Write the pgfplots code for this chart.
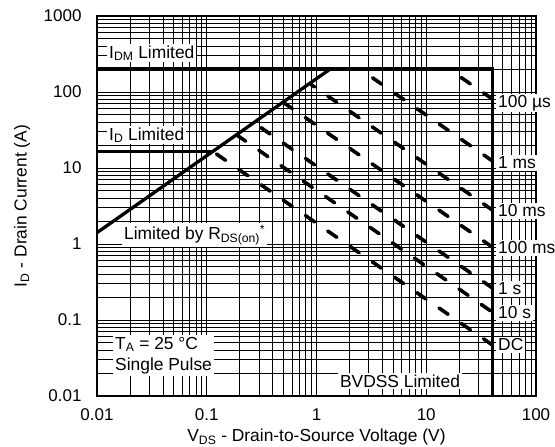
\documentclass[border=0pt]{standalone}
\usepackage{fontspec}
\setmainfont{Liberation Sans}
\usepackage{pgfplots}
\pgfplotsset{compat=1.18}
\newcommand{\lbl}{\fontsize{17.4}{21}\selectfont}
\begin{document}
\begin{tikzpicture}[x=1pt,y=1pt]
\begin{axis}[
  at={(97pt,51pt)}, anchor=south west,
  scale only axis, width=439pt, height=380pt,
  xmode=log, ymode=log,
  xmin=0.01, xmax=100, ymin=0.01, ymax=1000,
  xtick={0.01,0.1,1,10,100}, xticklabels={0.01,0.1,1,10,100},
  ytick={0.01,0.1,1,10,100,1000}, yticklabels={0.01,0.1,1,10,100,1000},
  grid=both,
  major grid style={black, line width=0.95pt},
  minor grid style={black, line width=0.95pt},
  major tick length=0pt, minor tick length=0pt,
  axis line style={line width=2.2pt},
  tick label style={font=\fontsize{17}{20}\selectfont},
  xticklabel style={yshift=-9pt},
  yticklabel style={xshift=-12pt},
  /pgf/number format/assume math mode=true,
]
% IDM limit + BVDSS limit
\addplot[line width=3.3pt] coordinates {(0.01,200) (40,200) (40,0.01)};
% ID limit
\addplot[line width=3.3pt] coordinates {(0.01,16.4) (0.115,16.4)};
% RDS(on) limit
\addplot[line width=3.3pt] coordinates {(0.01,1.41) (1.33,200)};
% pulse curves (constant power)
\addplot[line width=3.6pt, line cap=round, dash pattern=on 11.1pt off 15.97pt, dash phase=23.37pt] coordinates {(0.115,16.3) (40,0.047)};
\addplot[line width=3.6pt, line cap=round, dash pattern=on 11.1pt off 15.97pt, dash phase=25.25pt] coordinates {(0.181,28.2) (40,0.127)};
\addplot[line width=3.6pt, line cap=round, dash pattern=on 11.1pt off 15.97pt, dash phase=19.35pt] coordinates {(0.273,38.8) (40,0.264)};
\addplot[line width=3.6pt, line cap=round, dash pattern=on 11.1pt off 15.97pt, dash phase=1.23pt] coordinates {(0.507,71.8) (40,0.91)};
\addplot[line width=3.6pt, line cap=round, dash pattern=on 11.1pt off 15.97pt, dash phase=6.76pt] coordinates {(0.891,125.7) (40,2.8)};
\addplot[line width=3.6pt, line cap=round, dash pattern=on 11.1pt off 15.97pt, dash phase=11.75pt] coordinates {(2.49,200) (40,12.4)};
\addplot[line width=3.6pt, line cap=round, dash pattern=on 11.1pt off 15.97pt, dash phase=12.24pt] coordinates {(16.1,200) (40,80.9)};
\end{axis}
\tikzset{lb/.style={fill=white, inner xsep=2pt, inner ysep=1.5pt, font=\lbl}}
\node[lb, anchor=west] at (107,{447-53}) {I\textsubscript{DM} Limited};
\node[lb, anchor=west] at (107,{447-135}) {I\textsubscript{D} Limited};
\node[lb, anchor=west] at (122,{447-235}) {Limited by R\textsubscript{DS(on)}\textsuperscript{*}};
\node[lb, anchor=north west, align=left, inner ysep=2pt] at (113,{447-335}) {T\textsubscript{A} = 25 °C\\Single Pulse};
\node[lb] at (400,{447-381}) {BVDSS Limited};
\node[lb, anchor=west] at (496,{447-103}) {100 µs};
\node[lb, anchor=west] at (496,{447-163}) {1 ms};
\node[lb, anchor=west] at (496,{447-211}) {10 ms};
\node[lb, anchor=west] at (496,{447-248}) {100 ms};
\node[lb, anchor=west] at (496,{447-289}) {1 s};
\node[lb, anchor=west] at (496,{447-313}) {10 s};
\node[lb, anchor=west] at (496,{447-345}) {DC};
\node[font=\lbl, rotate=90] at (22,{447-206}) {I\textsubscript{D} - Drain Current (A)};
\node[font=\lbl] at (316.5,{447-437}) {V\textsubscript{DS} - Drain-to-Source Voltage (V)};
\pgfresetboundingbox
\path (0,0) rectangle (555,447);
\end{tikzpicture}
\end{document}
